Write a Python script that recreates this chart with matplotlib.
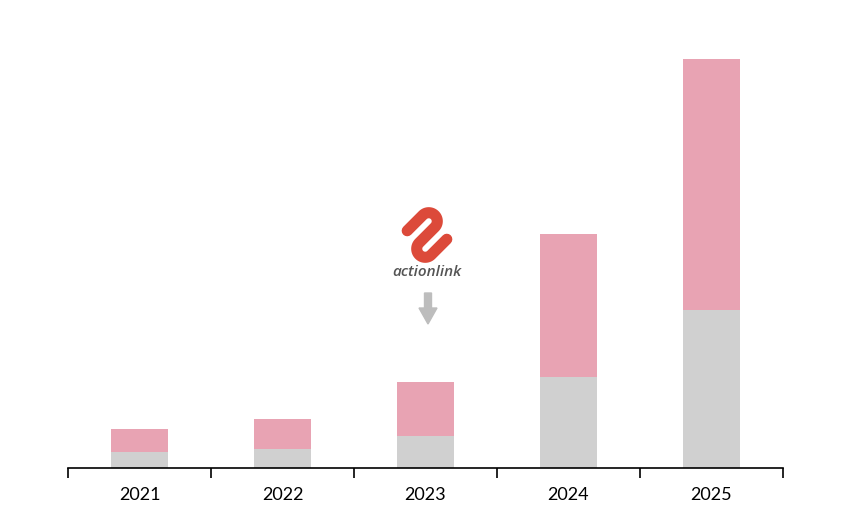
import matplotlib
matplotlib.use("Agg")
import matplotlib.pyplot as plt
import numpy as np
from matplotlib.patches import FancyArrow

# data (arbitrary units)
years = ["2021", "2022", "2023", "2024", "2025"]
base = [16, 19, 32, 91, 158]
top = [23, 30, 54, 143, 251]

grey = "#d0d0d0"
pink = "#e8a3b3"

fig = plt.figure(figsize=(8.46, 5.32), dpi=100)
ax = fig.add_axes([68 / 846, 1 - 468 / 532, 715 / 846, 448 / 532])

x = np.arange(len(years))
ax.bar(x, base, width=0.4, color=grey)
ax.bar(x, top, width=0.4, bottom=base, color=pink)

ax.set_xlim(-0.5, len(years) - 0.5)
ax.set_ylim(0, 448)
for s in ["top", "right", "left"]:
    ax.spines[s].set_visible(False)
ax.spines["bottom"].set_linewidth(1.2)
ax.set_yticks([])
ax.set_xticks(x)
ax.set_xticklabels(years, fontsize=13, family="Lato")
ax.tick_params(axis="x", which="major", length=0, pad=14)
ax.set_xticks(np.arange(-0.5, len(years)), minor=True)
ax.tick_params(axis="x", which="minor", length=7, width=1.2)

# logo (decoration in pixel coords)
def px(xp, yp):
    return np.asarray(xp) / 846, 1 - np.asarray(yp) / 532

d, L = 17, 11
t = np.linspace(0, np.pi, 30)
u = np.concatenate([np.linspace(-L, L, 10), L + d / 2 * np.sin(t),
                    np.linspace(L, -L, 10), -L - d / 2 * np.sin(t),
                    np.linspace(-L, L, 10)])
v = np.concatenate([np.full(10, d), d / 2 + d / 2 * np.cos(t),
                    np.zeros(10), -d / 2 + d / 2 * np.cos(t),
                    np.full(10, -d)])
ang = np.deg2rad(45)
xs = 427 + u * np.cos(ang) - v * np.sin(ang)
ys = 235 - (u * np.sin(ang) + v * np.cos(ang))
fx, fy = px(xs, ys)
fig.add_artist(plt.Line2D(fx, fy, color="#dc4a3a", lw=8,
                          solid_capstyle="round", solid_joinstyle="round"))

tx, ty = px(427, 272)
fig.text(tx, ty, "actionlink", ha="center", va="center", fontsize=11,
         style="italic", weight="semibold", color="#555555", family="Open Sans")

ax0, ay0 = px(428, 293)
fig.add_artist(FancyArrow(ax0, ay0, 0, -31 / 532, width=7 / 846,
                          head_width=18 / 846, head_length=16 / 532,
                          length_includes_head=True, color="#bdbdbd",
                          transform=fig.transFigure))

fig.savefig("out.png", dpi=100)
